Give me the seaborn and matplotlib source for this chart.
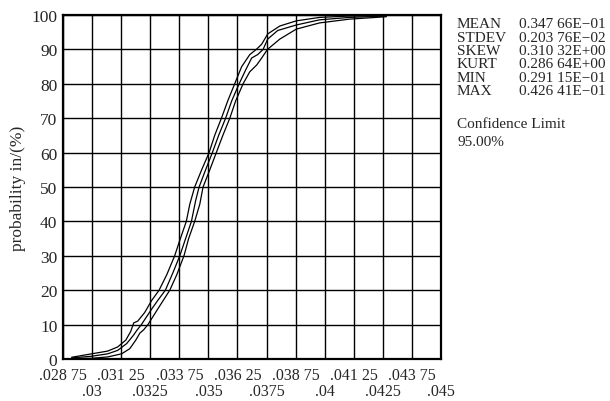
import numpy as np
import matplotlib
matplotlib.use("Agg")
import matplotlib.pyplot as plt
import seaborn as sns

sns.set_theme(style="white")
plt.rcParams['font.family'] = ['Liberation Serif', 'DejaVu Serif']
plt.rcParams['axes.unicode_minus'] = True

# cumulative probability curve and its 95% confidence band
x_up = [0.02912, 0.02998, 0.03067, 0.03110, 0.03145, 0.03166, 0.03179, 0.03196, 0.03226, 0.03256,
        0.03288, 0.03321, 0.03355, 0.03377, 0.03405, 0.03420, 0.03441, 0.03471, 0.03503, 0.03527,
        0.03556, 0.03583, 0.03613, 0.03643, 0.03678, 0.03706, 0.03729, 0.03755, 0.03807, 0.03878,
        0.03978, 0.04107, 0.04265]
p_up = [0.5, 1.5, 2.3, 3.5, 5.5, 8, 10.5, 11, 13.5, 17,
        20, 24.5, 30, 34.5, 40, 45, 50, 55, 60, 65,
        70, 75, 80, 85, 88.5, 90, 91.5, 94.5, 96.8, 98.3,
        99.3, 99.7, 99.8]

x_mid = [0.02912, 0.02998, 0.03067, 0.03110, 0.03149, 0.03179, 0.03192, 0.03212, 0.03256, 0.03282,
         0.03315, 0.03347, 0.03377, 0.03402, 0.03427, 0.03445, 0.03460, 0.03488, 0.03517, 0.03544,
         0.03574, 0.03600, 0.03632, 0.03660, 0.03686, 0.03712, 0.03735, 0.03755, 0.03798, 0.03878,
         0.03978, 0.04107, 0.04265]
p_mid = [0.3, 0.8, 1.5, 2.5, 4.5, 7, 8.3, 10, 14.5, 17,
         20, 25, 30, 35, 40, 46, 50, 55, 60, 65,
         70, 75, 80, 84, 87.5, 88.5, 90, 93, 95.5, 97.1,
         98.6, 99.3, 99.7]

x_lo = [0.02912, 0.02998, 0.03067, 0.03127, 0.03162, 0.03188, 0.03205, 0.03222, 0.03240, 0.03282,
        0.03334, 0.03364, 0.03395, 0.03415, 0.03441, 0.03463, 0.03477, 0.03506, 0.03534, 0.03562,
        0.03592, 0.03617, 0.03649, 0.03678, 0.03708, 0.03729, 0.03754, 0.03807, 0.03878, 0.03978,
        0.04107, 0.04265]
p_lo = [0.1, 0.2, 0.6, 1.5, 3, 5.5, 7.5, 8.5, 10, 14.5,
        20, 24.5, 30, 35, 40, 45, 50, 55, 60, 65,
        70, 75, 80, 83.5, 85.5, 87.5, 90, 93, 95.9, 97.7,
        98.8, 99.5]

# two rows of x labels: upper row on odd steps, lower row on round values
xticks_top = [0.02875, 0.03125, 0.03375, 0.03625, 0.03875, 0.04125, 0.04375]
xlabels_top = [".028 75", ".031 25", ".033 75", ".036 25", ".038 75", ".041 25", ".043 75"]
xticks_bot = [0.03, 0.0325, 0.035, 0.0375, 0.04, 0.0425, 0.045]
xlabels_bot = [".03", ".0325", ".035", ".0375", ".04", ".0425", ".045"]

stat_names = ["MEAN", "STDEV", "SKEW", "KURT", "MIN", "MAX"]
stat_values = ["0.347 66E\u221201", "0.203 76E\u221202", "0.310 32E+00",
               "0.286 64E+00", "0.291 15E\u221201", "0.426 41E\u221201"]

fig = plt.figure(figsize=(6.1, 4.02), dpi=100)
ax = fig.add_axes([0.1033, 0.1045, 0.6197, 0.8557])

for xs, ps in [(x_up, p_up), (x_mid, p_mid), (x_lo, p_lo)]:
    sns.lineplot(x=xs, y=ps, ax=ax, color='black', linewidth=0.9, estimator=None, sort=False)

ax.set_xlim(0.02875, 0.045)
ax.set_ylim(0, 100)
ax.set_xticks(xticks_top)
ax.set_xticklabels(xlabels_top, fontsize=11.5)
ax.set_xticks(xticks_bot, minor=True)
ax.set_xticklabels(xlabels_bot, minor=True, fontsize=11.5)
ax.set_yticks(np.arange(0, 101, 10))
ax.set_yticklabels([str(v) for v in range(0, 101, 10)], fontsize=12.5)
ax.tick_params(axis='both', which='both', length=0)
ax.tick_params(axis='x', which='major', pad=6)
ax.tick_params(axis='x', which='minor', pad=17)
ax.tick_params(axis='y', pad=4)
ax.grid(True, which='both', color='black', linewidth=1.0)
for s in ax.spines.values():
    s.set_color('black')
    s.set_linewidth(1.6)
ax.set_ylabel("probability in/(%)", fontsize=12.5, labelpad=4)

for i, (n, v) in enumerate(zip(stat_names, stat_values)):
    fig.text(457 / 610, 1 - (25 + 13.3 * i) / 402, n, fontsize=11, va='center', ha='left')
    fig.text(519 / 610, 1 - (25 + 13.3 * i) / 402, v, fontsize=11, va='center', ha='left')
fig.text(457 / 610, 1 - 125 / 402, "Confidence Limit", fontsize=11, va='center', ha='left')
fig.text(457 / 610, 1 - 142 / 402, "95.00%", fontsize=11, va='center', ha='left')

fig.savefig("out.png", dpi=100)
